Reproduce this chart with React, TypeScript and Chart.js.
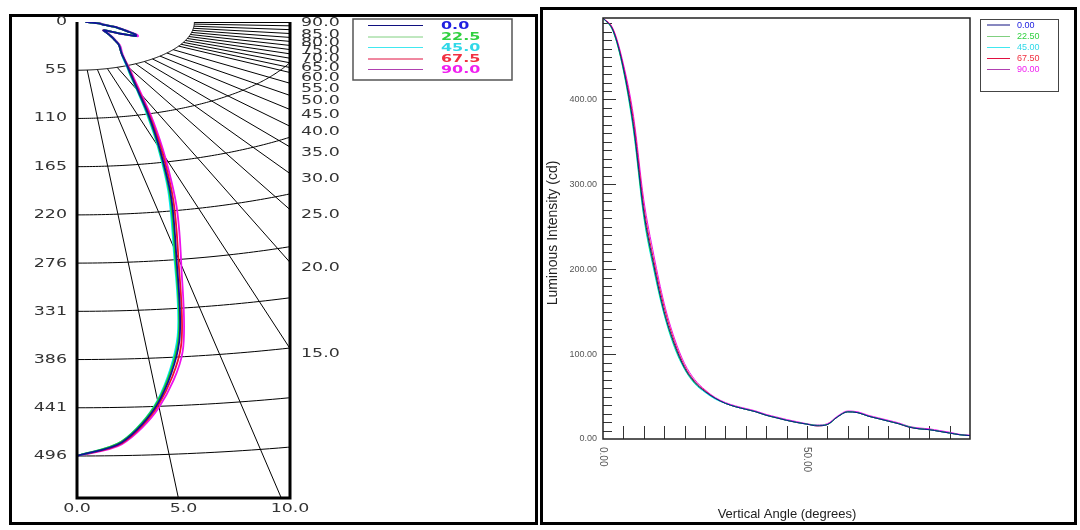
import React, { useEffect, useRef } from "react";
import { Chart, registerables } from "chart.js";

Chart.register(...registerables);

// ---------- data ----------
const angles = [0, 2.5, 5, 7.5, 10, 12.5, 15, 17.5, 20, 22.5, 25, 27.5, 30, 32.5, 35, 37.5, 40, 42.5, 45, 47.5, 50, 52.5, 55, 57.5, 60, 62.5, 65, 67.5, 70, 72.5, 75, 77.5, 80, 82.5, 85, 87.5, 90];

const plane0 = [496, 481, 437, 368, 268, 204, 150, 112, 84, 67, 56, 48, 42, 38, 35, 32, 28, 25, 22, 19.5, 17.5, 15.5, 17, 26, 32, 31, 27, 24, 21, 18, 14, 12, 11, 9, 7, 5, 4];
const plane22 = [496, 480, 435, 365, 264, 201, 148, 110, 83, 66, 56, 48, 42, 38, 35, 32, 28, 25, 22, 19.5, 17.5, 16, 17, 26, 32, 31, 27, 24, 21, 18, 14.5, 12, 11, 9, 7, 5, 4];
const plane45 = [496, 480, 434, 362, 261, 198, 146, 108, 82, 65, 55, 47, 42, 38, 35, 32, 28, 25, 22, 19.5, 17.5, 16, 17, 26, 32, 31, 27, 24, 21, 18, 14.5, 12, 11, 9, 7, 5, 4];
const plane67 = [496, 482, 439, 374, 274, 209, 155, 115, 86, 68, 57, 48, 42, 38, 35, 32, 28, 25, 22, 19.5, 17.5, 15.5, 17, 26, 32, 31, 27, 24, 21, 18, 14, 12, 11, 9, 7, 5, 4];
const plane90 = [496, 483, 442, 380, 282, 216, 160, 119, 89, 70, 58, 49, 43, 39, 36, 33, 29, 26, 23, 20.5, 18, 16.5, 18, 27, 33, 32, 28, 25, 22, 19, 15, 13, 12, 10, 8, 5.5, 4.5];

const planes = [plane0, plane22, plane45, plane67, plane90];
const polarLegendLabels = ["0.0", "22.5", "45.0", "67.5", "90.0"];
const cartLegendLabels = ["0.00", "22.50", "45.00", "67.50", "90.00"];

const lineColors = ["#10109a", "#22cc22", "#00e8f0", "#ee1030", "#ee10ee"];
const legendLineColors = ["#101080", "#80d080", "#40e8f0", "#e01040", "#b040b0"];
const legendTextColors = ["#2020e0", "#30d040", "#30d8e8", "#f03040", "#f020f0"];

const polarRadiusTicks = [0, 55, 110, 165, 220, 276, 331, 386, 441, 496];
const polarRingStep = 55.11;
const polarWidthTicks = [0, 50, 100];
const polarLabelAngles = [90, 85, 80, 75, 70, 65, 60, 55, 50, 45, 40, 35, 30, 25, 20, 15];
const polarFineAngles = [5, 10, 15, 20, 25, 30, 35, 40, 45, 50, 55, 60, 62.5, 65, 67.5, 70, 72.5, 75, 77.5, 80, 82.5, 85, 87.5, 90];

const cartYTicks = [0, 100, 200, 300, 400];
const cartXLabels = [0, 50];

const deg = Math.PI / 180;

function stretchText(ctx: CanvasRenderingContext2D, text: string, x: number, y: number, align: CanvasTextAlign, sx: number) {
  ctx.save();
  ctx.translate(x, y);
  ctx.scale(sx, 1);
  ctx.textAlign = align;
  ctx.fillText(text, 0, 0);
  ctx.restore();
}

const polarPlugin = {
  id: "polarDecor",
  beforeDatasetsDraw(chart: any) {
    const { ctx, chartArea: ca, scales } = chart;
    const px = (u: number) => scales.x.getPixelForValue(u);
    const py = (u: number) => scales.y.getPixelForValue(u);
    ctx.save();
    ctx.beginPath();
    ctx.rect(ca.left, ca.top - 1, ca.right - ca.left, ca.bottom - ca.top + 1);
    ctx.clip();
    ctx.strokeStyle = "#000";
    ctx.lineWidth = 1;
    for (let k = 1; k <= 9; k++) {
      const r = polarRingStep * k;
      ctx.beginPath();
      for (let p = 0; p <= 90; p += 0.5) {
        const X = px(r * Math.sin(p * deg));
        const Y = py(r * Math.cos(p * deg));
        if (p === 0) ctx.moveTo(X, Y);
        else ctx.lineTo(X, Y);
      }
      ctx.stroke();
    }
    for (const a of polarFineAngles) {
      const r0 = polarRingStep;
      const r1 = 2000;
      ctx.beginPath();
      ctx.moveTo(px(r0 * Math.sin(a * deg)), py(r0 * Math.cos(a * deg)) + (a === 90 ? 0.5 : 0));
      ctx.lineTo(px(r1 * Math.sin(a * deg)), py(r1 * Math.cos(a * deg)) + (a === 90 ? 0.5 : 0));
      ctx.stroke();
    }
    ctx.restore();
  },
  afterDatasetsDraw(chart: any) {
    const { ctx, chartArea: ca, scales } = chart;
    const px = (u: number) => scales.x.getPixelForValue(u);
    const py = (u: number) => scales.y.getPixelForValue(u);
    ctx.save();
    ctx.strokeStyle = "#000";
    ctx.lineWidth = 3;
    ctx.beginPath();
    ctx.moveTo(ca.left, ca.top);
    ctx.lineTo(ca.left, ca.bottom);
    ctx.lineTo(ca.right, ca.bottom);
    ctx.lineTo(ca.right, ca.top);
    ctx.stroke();

    ctx.fillStyle = "#333";
    ctx.font = "12px 'DejaVu Sans'";
    ctx.textBaseline = "middle";
    for (const t of polarRadiusTicks) {
      stretchText(ctx, String(t), ca.left - 10, py(t), "right", 1.45);
    }
    for (const t of polarWidthTicks) {
      stretchText(ctx, (t / 10).toFixed(1), px(t), ca.bottom + 11, "center", 1.45);
    }
    for (const a of polarLabelAngles) {
      const yu = a === 90 ? 0 : 100 / Math.tan(a * deg);
      const yy = py(yu) + (a === 90 ? 0.5 : 5.5);
      stretchText(ctx, a.toFixed(1), ca.right + 11, yy, "left", 1.45);
    }

    // legend
    const bx = 353, by = 19, bw = 159, bh = 61;
    ctx.lineWidth = 1.5;
    ctx.strokeStyle = "#555";
    ctx.strokeRect(bx, by, bw, bh);
    const rows = [25.5, 37, 47.5, 59, 69.5];
    ctx.font = "bold 11px 'DejaVu Sans'";
    polarLegendLabels.forEach((lab, i) => {
      ctx.strokeStyle = legendLineColors[i];
      ctx.lineWidth = 1;
      ctx.beginPath();
      ctx.moveTo(368, rows[i]);
      ctx.lineTo(423, rows[i]);
      ctx.stroke();
      ctx.fillStyle = legendTextColors[i];
      stretchText(ctx, lab, 441, rows[i] + 0.5, "left", 1.45);
    });
    ctx.restore();
  },
};

const cartPlugin = {
  id: "cartDecor",
  beforeDatasetsDraw(chart: any) {
    const { ctx, chartArea: ca, scales } = chart;
    const px = (u: number) => scales.x.getPixelForValue(u);
    const py = (u: number) => scales.y.getPixelForValue(u);
    ctx.save();
    ctx.strokeStyle = "#333";
    ctx.lineWidth = 1;
    for (let v = 10; v < 496; v += 10) {
      const len = v % 100 === 0 ? 13 : 9;
      ctx.beginPath();
      ctx.moveTo(ca.left, Math.round(py(v)) + 0.5);
      ctx.lineTo(ca.left + len, Math.round(py(v)) + 0.5);
      ctx.stroke();
    }
    for (let v = 5; v < 90; v += 5) {
      ctx.beginPath();
      ctx.moveTo(Math.round(px(v)) + 0.5, ca.bottom);
      ctx.lineTo(Math.round(px(v)) + 0.5, ca.bottom - 13);
      ctx.stroke();
    }
    ctx.restore();
  },
  afterDatasetsDraw(chart: any) {
    const { ctx, chartArea: ca, scales } = chart;
    const px = (u: number) => scales.x.getPixelForValue(u);
    const py = (u: number) => scales.y.getPixelForValue(u);
    ctx.save();
    ctx.strokeStyle = "#222";
    ctx.lineWidth = 1.5;
    ctx.strokeRect(ca.left, ca.top, ca.right - ca.left, ca.bottom - ca.top);

    ctx.fillStyle = "#555";
    ctx.font = "9px 'Liberation Sans'";
    ctx.textBaseline = "middle";
    ctx.textAlign = "right";
    for (const t of cartYTicks) ctx.fillText(t.toFixed(2), ca.left - 6, py(t));
    ctx.font = "10px 'Liberation Sans'";
    for (const t of cartXLabels) {
      ctx.save();
      ctx.translate(px(t), ca.bottom + 8);
      ctx.rotate(Math.PI / 2);
      ctx.textAlign = "left";
      ctx.fillText(t.toFixed(2), 0, 0);
      ctx.restore();
    }
    ctx.fillStyle = "#222";
    ctx.font = "13px 'Liberation Sans'";
    ctx.textAlign = "center";
    ctx.fillText("Vertical Angle (degrees)", 247, 514);
    ctx.font = "14px 'Liberation Sans'";
    ctx.save();
    ctx.translate(13, 233);
    ctx.rotate(-Math.PI / 2);
    ctx.fillText("Luminous Intensity (cd)", 0, 0);
    ctx.restore();

    // legend
    ctx.strokeStyle = "#444";
    ctx.lineWidth = 1;
    ctx.strokeRect(440.5, 19.5, 78, 72);
    const rows = [24.5, 36, 47, 58, 69];
    ctx.font = "9px 'Liberation Sans'";
    ctx.textAlign = "left";
    cartLegendLabels.forEach((lab, i) => {
      ctx.strokeStyle = legendLineColors[i];
      ctx.beginPath();
      ctx.moveTo(447, rows[i] + 0.5);
      ctx.lineTo(470, rows[i] + 0.5);
      ctx.stroke();
      ctx.fillStyle = legendTextColors[i];
      ctx.fillText(lab, 477, rows[i] + 1);
    });
    ctx.restore();
  },
};

export default function App() {
  const leftRef = useRef<HTMLCanvasElement>(null);
  const rightRef = useRef<HTMLCanvasElement>(null);

  useEffect(() => {
    const polarSets = planes.map((vals, i) => ({
      label: polarLegendLabels[i],
      data: angles.map((a, j) => ({ x: vals[j] * Math.sin(a * deg), y: vals[j] * Math.cos(a * deg) })),
      borderColor: lineColors[i],
      borderWidth: 1.8,
      showLine: true,
      tension: 0.3,
      pointRadius: 0,
      fill: false,
    }));
    const c1 = new Chart(leftRef.current as HTMLCanvasElement, {
      type: "scatter",
      data: { datasets: polarSets as any },
      options: {
        responsive: false,
        animation: false,
        devicePixelRatio: 1,
        layout: { padding: { left: 77, right: 250, top: 22, bottom: 32 } },
        plugins: { legend: { display: false }, tooltip: { enabled: false } },
        scales: {
          x: { type: "linear", display: false, min: 0, max: 100 },
          y: { type: "linear", display: false, min: 0, max: 544, reverse: true },
        },
      },
      plugins: [polarPlugin],
    });

    const cartSets = planes.map((vals, i) => ({
      label: cartLegendLabels[i],
      data: angles.map((a, j) => ({ x: a, y: vals[j] })),
      borderColor: lineColors[i],
      borderWidth: 1,
      cubicInterpolationMode: "monotone",
      pointRadius: 0,
      fill: false,
    }));
    const c2 = new Chart(rightRef.current as HTMLCanvasElement, {
      type: "line",
      data: { datasets: cartSets as any },
      options: {
        responsive: false,
        animation: false,
        devicePixelRatio: 1,
        layout: { padding: { left: 63, right: 110, top: 18, bottom: 91 } },
        plugins: { legend: { display: false }, tooltip: { enabled: false } },
        scales: {
          x: { type: "linear", display: false, min: 0, max: 90 },
          y: { type: "linear", display: false, min: 0, max: 496 },
        },
      },
      plugins: [cartPlugin],
    });
    return () => {
      c1.destroy();
      c2.destroy();
    };
  }, []);

  return (
    <div style={{ position: "fixed", left: 0, top: 0, width: 1080, height: 530, background: "#fff", overflow: "hidden" }}>
      <div style={{ position: "absolute", left: 9, top: 14, width: 529, height: 511, border: "3px solid #000", boxSizing: "border-box" }} />
      <div style={{ position: "absolute", left: 540, top: 7, width: 537, height: 518, border: "3px solid #000", boxSizing: "border-box" }} />
      <canvas ref={leftRef} width={540} height={530} style={{ position: "absolute", left: 0, top: 0, width: 540, height: 530 }} />
      <canvas ref={rightRef} width={540} height={530} style={{ position: "absolute", left: 540, top: 0, width: 540, height: 530 }} />
    </div>
  );
}
